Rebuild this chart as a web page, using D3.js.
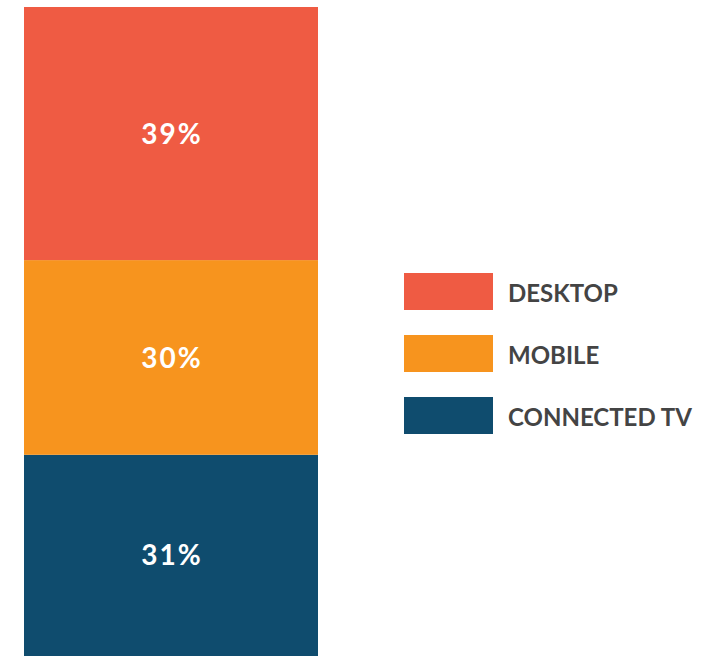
<!DOCTYPE html>
<html>
<head>
<meta charset="utf-8">
<script src="https://cdn.jsdelivr.net/npm/d3@7"></script>
<style>
  html, body { margin: 0; padding: 0; background: #ffffff; }
  svg { display: block; }
</style>
</head>
<body>
<svg id="chart" width="723" height="657"></svg>
<script>
// Share of views by device (percent)
const categories = ["DESKTOP", "MOBILE", "CONNECTED TV"];
const values = [39, 30, 31];
const colors = ["#EF5B43", "#F7941E", "#0F4C6E"];
const valueLabels = ["39%", "30%", "31%"];

const svg = d3.select("#chart");

const bar = { x0: 24, x1: 318, top: 7, bottom: 656 };

// Stack from the bottom up: last category sits at the bottom
const row = {};
categories.forEach((c, i) => row[c] = values[i]);
const stackOrder = categories.slice().reverse();
const series = d3.stack().keys(stackOrder)([row]);

const y = d3.scaleLinear()
  .domain([0, d3.sum(values)])
  .range([bar.bottom, bar.top]);

const x = d3.scaleBand()
  .domain(["all"])
  .range([bar.x0, bar.x1])
  .padding(0);

const color = d3.scaleOrdinal().domain(categories).range(colors);
const label = d3.scaleOrdinal().domain(categories).range(valueLabels);

const seg = svg.append("g").selectAll("g")
  .data(series)
  .join("g");

seg.append("rect")
  .attr("x", x("all"))
  .attr("width", x.bandwidth())
  .attr("y", d => y(d[0][1]))
  .attr("height", d => y(d[0][0]) - y(d[0][1]))
  .attr("fill", d => color(d.key));

const spacing = 2;
seg.append("text")
  .attr("x", x("all") + x.bandwidth() / 2 + spacing / 2)
  .attr("y", d => (y(d[0][0]) + y(d[0][1])) / 2)
  .attr("dy", "0.36em")
  .attr("text-anchor", "middle")
  .attr("fill", "#ffffff")
  .attr("font-family", "Lato, 'Open Sans', sans-serif")
  .attr("font-weight", 700)
  .attr("font-size", 28)
  .attr("letter-spacing", spacing)
  .text(d => label(d.key));

// Legend
const legend = { x: 404, y: 273, sw: 89, sh: 37, step: 62, textX: 508 };
const leg = svg.append("g").selectAll("g")
  .data(categories)
  .join("g")
  .attr("transform", (d, i) => `translate(${legend.x},${legend.y + i * legend.step})`);

leg.append("rect")
  .attr("width", legend.sw)
  .attr("height", legend.sh)
  .attr("fill", d => color(d));

leg.append("text")
  .attr("x", legend.textX - legend.x)
  .attr("y", legend.sh / 2)
  .attr("dy", "0.44em")
  .attr("fill", "#444444")
  .attr("font-family", "Lato, 'Open Sans', sans-serif")
  .attr("font-weight", 700)
  .attr("font-size", 24)
  .text(d => d);
</script>
</body>
</html>
